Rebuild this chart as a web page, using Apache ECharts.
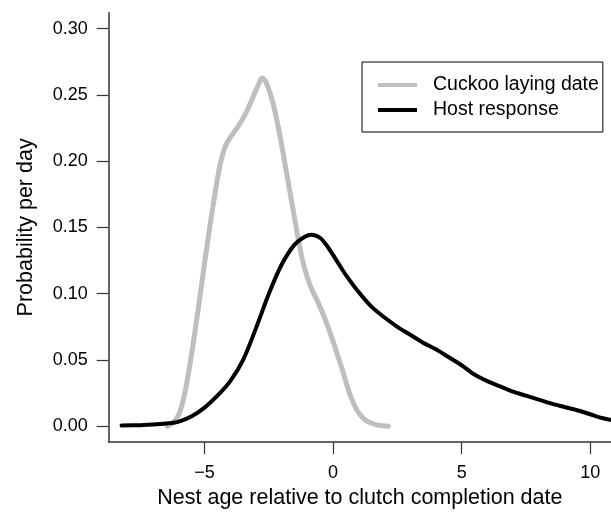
<!DOCTYPE html>
<html>
<head>
<meta charset="utf-8">
<script src="https://cdn.jsdelivr.net/npm/echarts@6/dist/echarts.min.js"></script>
<style>
  html, body { margin: 0; padding: 0; background: #fff; }
  #chart { width: 611px; height: 514px; }
</style>
</head>
<body>
<div id="chart"></div>
<script>
// values
var cuckooX = [-6.45, -6.2, -6.0, -5.8, -5.6, -5.4, -5.2, -5.0, -4.8, -4.6, -4.4, -4.2, -4.0, -3.7, -3.4, -3.1, -2.9, -2.76, -2.6, -2.4, -2.2, -2.0, -1.8, -1.6, -1.4, -1.2, -1.0, -0.8, -0.6, -0.4, -0.2, 0.0, 0.2, 0.4, 0.6, 0.8, 1.0, 1.3, 1.7, 2.15];
var cuckooY = [0.000, 0.003, 0.009, 0.022, 0.043, 0.068, 0.095, 0.123, 0.150, 0.175, 0.197, 0.211, 0.218, 0.226, 0.236, 0.249, 0.258, 0.263, 0.259, 0.248, 0.232, 0.212, 0.190, 0.168, 0.146, 0.126, 0.112, 0.102, 0.094, 0.085, 0.075, 0.064, 0.052, 0.040, 0.027, 0.017, 0.010, 0.004, 0.001, 0.000];

var hostX = [-8.23, -7.5, -7.0, -6.5, -6.0, -5.5, -5.0, -4.5, -4.0, -3.5, -3.0, -2.5, -2.0, -1.5, -1.1, -0.85, -0.5, -0.2, 0.2, 0.5, 1.0, 1.5, 2.0, 2.5, 3.0, 3.5, 4.0, 4.5, 5.0, 5.5, 6.0, 6.5, 7.0, 7.5, 8.0, 8.5, 9.0, 9.5, 10.0, 10.5, 11.0];
var hostY = [0.0005, 0.0008, 0.0012, 0.002, 0.0035, 0.0075, 0.014, 0.023, 0.034, 0.050, 0.074, 0.100, 0.122, 0.137, 0.143, 0.1445, 0.142, 0.135, 0.123, 0.114, 0.101, 0.090, 0.082, 0.075, 0.069, 0.063, 0.058, 0.052, 0.046, 0.039, 0.034, 0.030, 0.026, 0.023, 0.020, 0.017, 0.0145, 0.012, 0.009, 0.006, 0.004];

var xTicks = [-5, 0, 5, 10];
var yTicks = [0, 0.05, 0.10, 0.15, 0.20, 0.25, 0.30];

function pairs(xs, ys) {
    var out = [];
    for (var i = 0; i < xs.length; i++) out.push([xs[i], ys[i]]);
    return out;
}

var font = "'Liberation Sans', Arial, sans-serif";

var option = {
    animation: false,
    backgroundColor: '#fff',
    textStyle: { fontFamily: font },
    grid: { left: 108.7, top: 12.7, width: 508, height: 434 },
    legend: {
        orient: 'vertical',
        left: 362,
        top: 62,
        borderColor: '#000',
        borderWidth: 1,
        borderRadius: 0,
        padding: [13, 4, 12, 16],
        itemGap: 5,
        itemWidth: 39,
        itemHeight: 4,
        icon: 'rect',
        textStyle: { fontSize: 19.5, color: '#000', lineHeight: 20, padding: [0, 0, 0, 11], fontFamily: font },
        data: ['Cuckoo laying date', 'Host response']
    },
    xAxis: {
        type: 'value',
        min: -8.73,
        max: 10.81,
        name: 'Nest age relative to clutch completion date',
        nameLocation: 'middle',
        nameGap: 40,
        nameTextStyle: { fontSize: 21.5, color: '#000', fontFamily: font },
        splitLine: { show: false },
        axisLine: { onZero: false, lineStyle: { color: '#333', width: 1.5 } },
        axisTick: { customValues: xTicks, length: 12, lineStyle: { color: '#333', width: 1.2 } },
        axisLabel: {
            customValues: xTicks, margin: 22, fontSize: 18, color: '#000',
            formatter: function (v) { return v < 0 ? '\u2212' + Math.abs(v) : String(v); }
        }
    },
    yAxis: {
        type: 'value',
        min: -0.012,
        max: 0.312,
        name: 'Probability per day',
        nameLocation: 'middle',
        nameGap: 72,
        nameTextStyle: { fontSize: 21.5, color: '#000', fontFamily: font },
        splitLine: { show: false },
        axisLine: { onZero: false, lineStyle: { color: '#333', width: 1.5 } },
        axisTick: { customValues: yTicks, length: 12, lineStyle: { color: '#333', width: 1.2 } },
        axisLabel: {
            customValues: yTicks, margin: 21, fontSize: 18, color: '#000',
            formatter: function (v) { return v.toFixed(2); }
        }
    },
    series: [
        {
            name: 'Cuckoo laying date',
            type: 'line',
            data: pairs(cuckooX, cuckooY),
            showSymbol: false,
            smooth: 0.3,
            color: '#bebebe',
            lineStyle: { color: '#bebebe', width: 5, join: 'round', cap: 'round' },
            z: 2
        },
        {
            name: 'Host response',
            type: 'line',
            data: pairs(hostX, hostY),
            showSymbol: false,
            smooth: 0.3,
            color: '#000',
            lineStyle: { color: '#000', width: 4, join: 'round', cap: 'round' },
            z: 3
        }
    ]
};

var chart = echarts.init(document.getElementById('chart'));
chart.setOption(option);
</script>
</body>
</html>
